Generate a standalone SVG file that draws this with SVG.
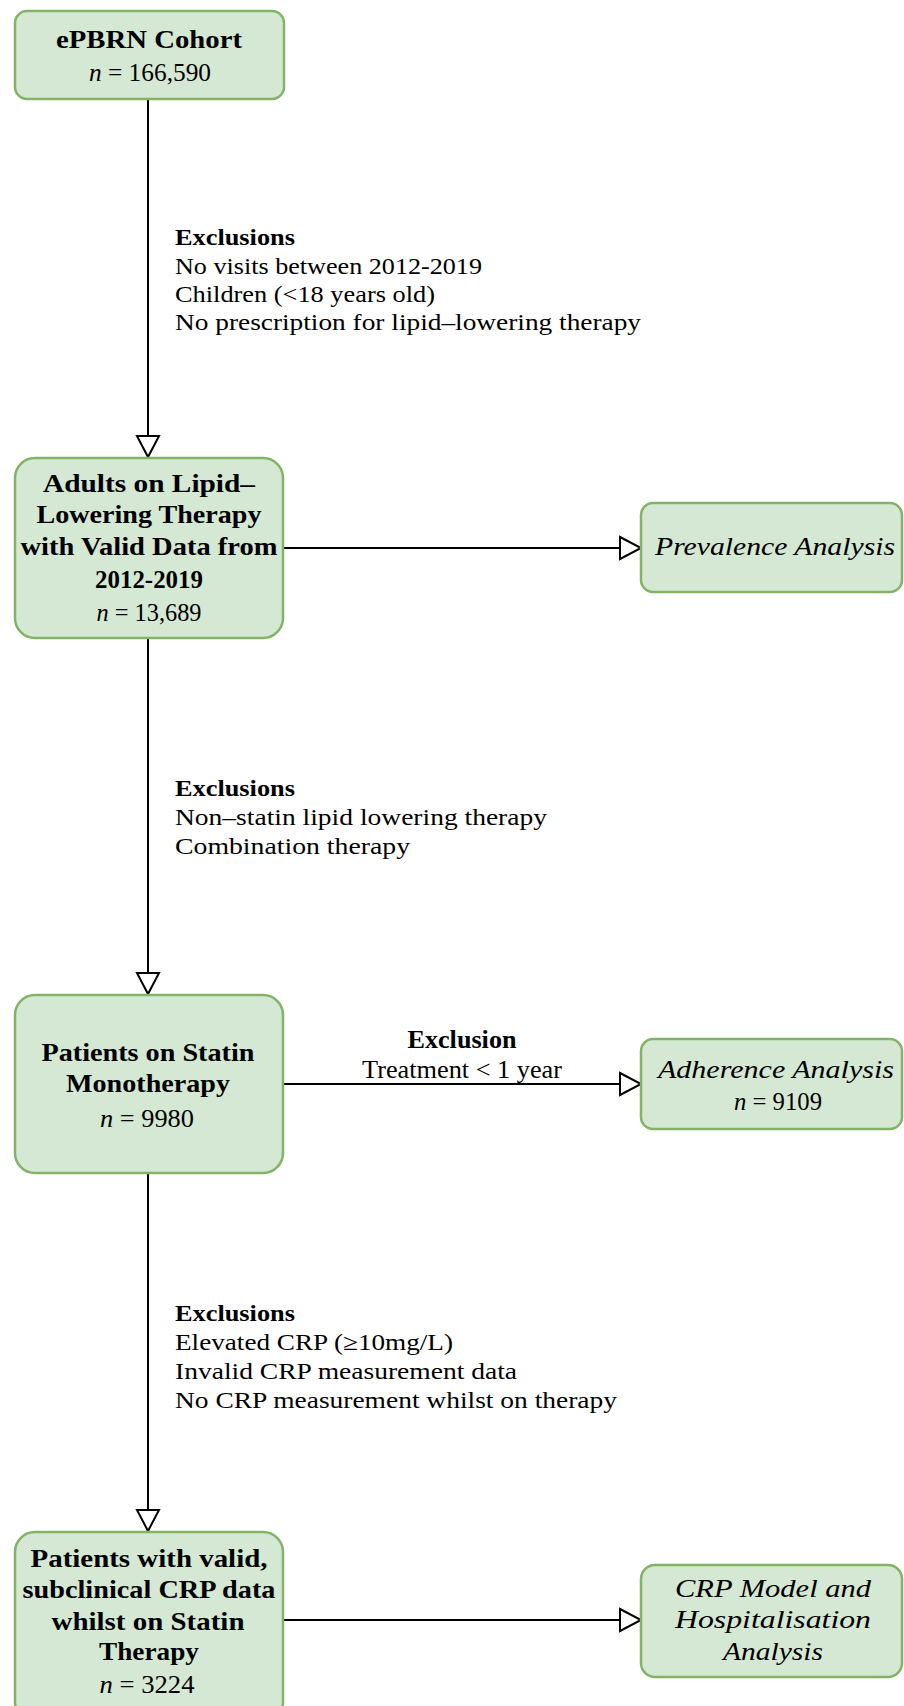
<svg xmlns="http://www.w3.org/2000/svg" width="904" height="1706" viewBox="0 0 904 1706">
<defs>
<marker id="arr" markerUnits="userSpaceOnUse" markerWidth="26" markerHeight="26" viewBox="0 0 26 26" refX="23" refY="13" orient="auto">
<path d="M2,2 L23,13 L2,24 Z" fill="#ffffff" stroke="#000000" stroke-width="2"/>
</marker>
</defs>
<style>
.box{fill:#d5e8d4;stroke:#82b366;stroke-width:2.5}
.b{font-family:"Liberation Serif",serif;font-weight:bold;font-size:25px;fill:#000;text-anchor:middle}
.n{font-family:"Liberation Serif",serif;font-size:25px;fill:#000;text-anchor:middle}
.i{font-family:"Liberation Serif",serif;font-style:italic;font-size:25px;fill:#000;text-anchor:middle}
.ex{font-family:"Liberation Serif",serif;font-size:23px;fill:#000}
.exb{font-family:"Liberation Serif",serif;font-size:23px;font-weight:bold;fill:#000}
.c{fill:none;stroke:#000;stroke-width:2}
</style>
<g id="connectors">
<line class="c" x1="148" y1="99" x2="148" y2="457" marker-end="url(#arr)"/>
<line class="c" x1="283" y1="548" x2="641" y2="548" marker-end="url(#arr)"/>
<line class="c" x1="148" y1="638" x2="148" y2="994" marker-end="url(#arr)"/>
<line class="c" x1="283" y1="1084" x2="641" y2="1084" marker-end="url(#arr)"/>
<line class="c" x1="148" y1="1173" x2="148" y2="1531" marker-end="url(#arr)"/>
<line class="c" x1="283" y1="1620" x2="641" y2="1620" marker-end="url(#arr)"/>
<text class="exb" x="175" y="245" textLength="120" lengthAdjust="spacingAndGlyphs">Exclusions</text>
<text class="ex" x="175" y="274" textLength="307" lengthAdjust="spacingAndGlyphs">No visits between 2012-2019</text>
<text class="ex" x="175" y="302" textLength="260" lengthAdjust="spacingAndGlyphs">Children (&lt;18 years old)</text>
<text class="ex" x="175" y="330" textLength="466" lengthAdjust="spacingAndGlyphs">No prescription for lipid–lowering therapy</text>
<text class="exb" x="175" y="796" textLength="120" lengthAdjust="spacingAndGlyphs">Exclusions</text>
<text class="ex" x="175" y="825" textLength="372" lengthAdjust="spacingAndGlyphs">Non–statin lipid lowering therapy</text>
<text class="ex" x="175" y="854" textLength="235" lengthAdjust="spacingAndGlyphs">Combination therapy</text>
<text class="b" x="462" y="1048" textLength="109" lengthAdjust="spacingAndGlyphs">Exclusion</text>
<text class="n" x="462" y="1078" textLength="200" lengthAdjust="spacingAndGlyphs">Treatment &lt; 1 year</text>
<text class="exb" x="175" y="1321" textLength="120" lengthAdjust="spacingAndGlyphs">Exclusions</text>
<text class="ex" x="175" y="1350" textLength="278" lengthAdjust="spacingAndGlyphs">Elevated CRP (≥10mg/L)</text>
<text class="ex" x="175" y="1379" textLength="342" lengthAdjust="spacingAndGlyphs">Invalid CRP measurement data</text>
<text class="ex" x="175" y="1408" textLength="442" lengthAdjust="spacingAndGlyphs">No CRP measurement whilst on therapy</text>
</g>
<g id="node-cohort">
<rect class="box" x="15" y="11" width="269" height="88" rx="12"/>
<text class="b" x="149" y="48" textLength="186" lengthAdjust="spacingAndGlyphs">ePBRN Cohort</text>
<text class="n" x="150" y="81" textLength="122" lengthAdjust="spacingAndGlyphs"><tspan font-style="italic">n</tspan> = 166,590</text>
</g>
<g id="node-adults">
<rect class="box" x="15" y="458" width="268" height="180" rx="20"/>
<text class="b" x="149" y="492" textLength="212" lengthAdjust="spacingAndGlyphs">Adults on Lipid–</text>
<text class="b" x="149" y="523" textLength="225" lengthAdjust="spacingAndGlyphs">Lowering Therapy</text>
<text class="b" x="149" y="555" textLength="257" lengthAdjust="spacingAndGlyphs">with Valid Data from</text>
<text class="b" x="149" y="588" textLength="108" lengthAdjust="spacingAndGlyphs">2012-2019</text>
<text class="n" x="149" y="621" textLength="105" lengthAdjust="spacingAndGlyphs"><tspan font-style="italic">n</tspan> = 13,689</text>
</g>
<g id="node-prevalence">
<rect class="box" x="641" y="503" width="261" height="89" rx="12"/>
<text class="i" x="775" y="555" textLength="240" lengthAdjust="spacingAndGlyphs">Prevalence Analysis</text>
</g>
<g id="node-statin">
<rect class="box" x="15" y="995" width="268" height="178" rx="20"/>
<text class="b" x="148" y="1061" textLength="213" lengthAdjust="spacingAndGlyphs">Patients on Statin</text>
<text class="b" x="148" y="1092" textLength="164" lengthAdjust="spacingAndGlyphs">Monotherapy</text>
<text class="n" x="147" y="1127" textLength="94" lengthAdjust="spacingAndGlyphs"><tspan font-style="italic">n</tspan> = 9980</text>
</g>
<g id="node-adherence">
<rect class="box" x="641" y="1039" width="261" height="90" rx="12"/>
<text class="i" x="776" y="1078" textLength="236" lengthAdjust="spacingAndGlyphs">Adherence Analysis</text>
<text class="n" x="778" y="1110" textLength="88" lengthAdjust="spacingAndGlyphs"><tspan font-style="italic">n</tspan> = 9109</text>
</g>
<g id="node-crp">
<rect class="box" x="15" y="1532" width="268" height="190" rx="20"/>
<text class="b" x="149" y="1567" textLength="237" lengthAdjust="spacingAndGlyphs">Patients with valid,</text>
<text class="b" x="149" y="1598" textLength="253" lengthAdjust="spacingAndGlyphs">subclinical CRP data</text>
<text class="b" x="148" y="1630" textLength="193" lengthAdjust="spacingAndGlyphs">whilst on Statin</text>
<text class="b" x="149" y="1660" textLength="100" lengthAdjust="spacingAndGlyphs">Therapy</text>
<text class="n" x="147" y="1693" textLength="95" lengthAdjust="spacingAndGlyphs"><tspan font-style="italic">n</tspan> = 3224</text>
</g>
<g id="node-crpmodel">
<rect class="box" x="641" y="1565" width="261" height="112" rx="14"/>
<text class="i" x="773" y="1597" textLength="196" lengthAdjust="spacingAndGlyphs">CRP Model and</text>
<text class="i" x="773" y="1628" textLength="196" lengthAdjust="spacingAndGlyphs">Hospitalisation</text>
<text class="i" x="773" y="1660" textLength="100" lengthAdjust="spacingAndGlyphs">Analysis</text>
</g>
</svg>
